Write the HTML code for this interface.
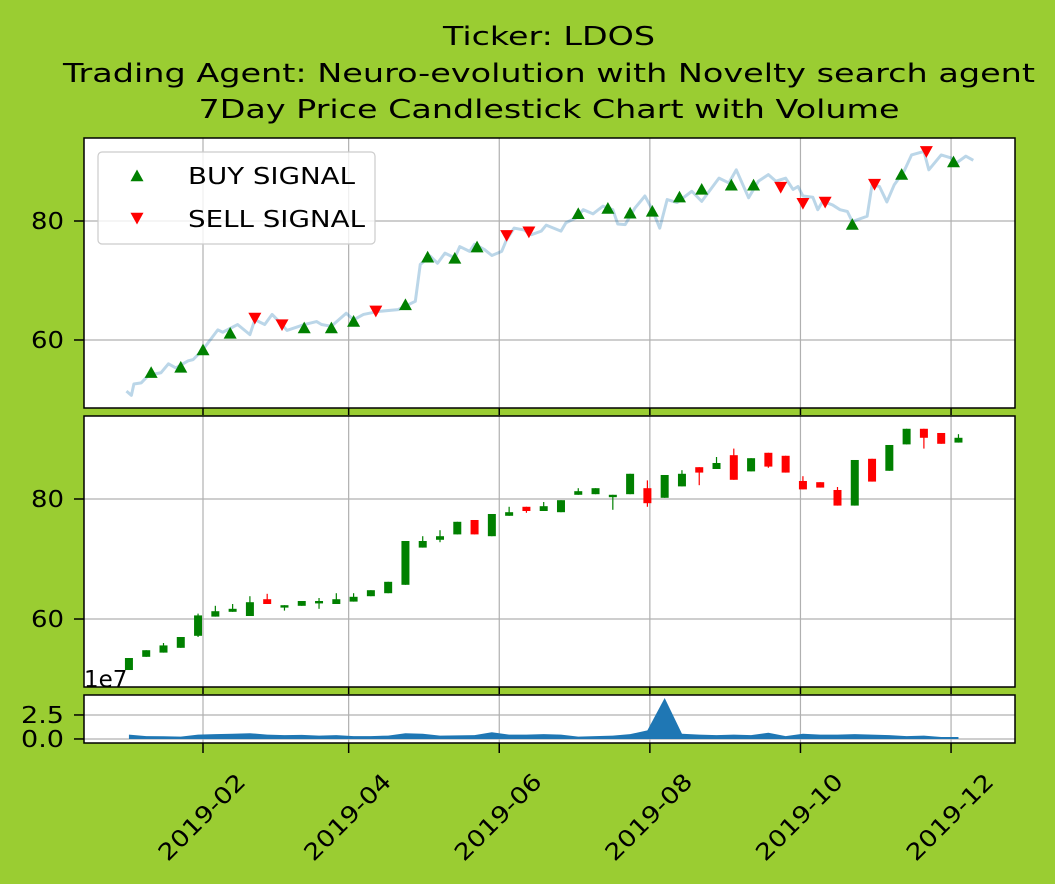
<!DOCTYPE html>
<html><head><meta charset="utf-8">
<style>
html,body{margin:0;padding:0;background:#9acd32;}
svg{display:block;font-family:"DejaVu Sans","Liberation Sans",sans-serif;}
</style></head>
<body>
<svg id="chart" width="1055" height="884" viewBox="0 0 1055 884" xmlns="http://www.w3.org/2000/svg">
<rect x="0" y="0" width="1055" height="884" fill="#9acd32"/>
<text x="549" y="45" font-size="26" text-anchor="middle" textLength="212" lengthAdjust="spacingAndGlyphs">Ticker: LDOS</text>
<text x="549" y="82" font-size="26" text-anchor="middle" textLength="972" lengthAdjust="spacingAndGlyphs">Trading Agent: Neuro-evolution with Novelty search agent</text>
<text x="549" y="118" font-size="26" text-anchor="middle" textLength="701" lengthAdjust="spacingAndGlyphs">7Day Price Candlestick Chart with Volume</text>
<g id="g1"></g>
<g id="g2"></g>
<g id="g3"></g>
<g id="gx"></g>
</svg>
<script>
// ---- data (day-of-year 2019) ----
const lineDays=[0,2,3,6,9,14,17,20,25,27,31,37,39,45,50,52,56,59,63,65,72,77,79,83,89,92,96,102,110,117,119,123,126,129,133,135,139,141,145,148,152,154,157,161,164,168,170,176,178,182,185,189,193,197,199,202,206,210,213,216,219,223,229,233,240,244,247,252,256,260,263,267,270,272,274,278,280,282,286,289,292,294,300,302,305,308,311,315,318,323,325,330,334,336,340,343];
const lineVals=[51.4,50.7,52.6,52.8,54.1,54.5,56.0,55.3,56.5,56.7,58.4,61.7,61.3,62.6,60.9,63.4,62.6,64.3,62.6,61.6,62.6,63.1,62.6,62.3,64.5,63.4,64.3,64.8,65.1,66.5,72.7,74.1,72.9,74.6,73.8,75.7,74.9,76.1,75.2,74.2,74.9,76.9,78.8,78.5,77.7,78.3,79.3,78.3,79.7,80.5,81.9,81.2,82.5,81.9,79.5,79.4,82.2,84.2,81.9,78.8,83.6,83.1,85.0,83.3,87.2,86.4,88.6,83.9,86.7,87.8,86.7,87.2,85.3,85.8,84.2,84.0,81.9,83.3,82.7,81.9,81.6,79.9,80.8,86.1,85.8,83.2,86.1,88.4,91.1,91.7,88.6,91.1,90.6,89.7,90.9,90.2];
const buyDays=[10,22,31,42,72,83,92,113,122,133,142,183,195,204,213,224,233,245,254,294,314,335];
const buyVals=[54.5,55.4,58.3,61.1,62.0,62.0,63.1,65.9,73.9,73.7,75.6,81.2,82.1,81.3,81.6,84.0,85.3,86.0,86.0,79.4,87.8,89.9];
const sellDays=[52,63,101,154,163,265,274,283,303,324];
const sellVals=[63.7,62.6,64.9,77.6,78.2,85.7,83.0,83.2,86.2,91.7];
const candleOpen=[51.5,53.7,54.4,55.2,57.2,60.4,61.2,60.5,63.3,61.9,62.2,62.6,62.5,62.9,63.8,64.3,65.7,71.9,73.2,74.1,76.5,73.8,77.2,78.7,78.0,77.8,80.7,80.8,80.3,80.8,81.8,80.2,82.1,85.3,85.0,87.3,84.6,87.7,87.2,83.0,82.8,81.5,78.9,86.7,84.7,89.1,91.7,91.0,89.4];
const candleClose=[53.5,54.8,55.6,57.0,60.6,61.3,61.7,62.8,62.5,62.3,63.0,63.0,63.3,63.7,64.8,66.2,73.0,73.0,73.8,76.2,74.1,77.5,77.8,78.0,78.8,79.8,81.3,81.8,80.7,84.2,79.3,84.0,84.2,84.4,86.0,83.2,86.8,85.4,84.4,81.6,81.9,78.9,86.5,82.9,89.0,91.7,90.2,89.2,90.2];
const candleHigh=[53.5,54.8,56.0,57.0,60.9,62.2,62.5,63.8,64.2,62.3,63.0,63.5,64.3,64.3,64.8,66.2,73.0,73.8,74.8,76.2,76.5,77.5,78.7,78.7,79.5,79.8,81.8,81.8,80.7,84.2,83.1,84.0,84.8,85.3,87.0,88.4,86.8,87.7,87.2,83.8,82.8,82.0,86.5,86.7,89.0,91.7,91.7,91.0,90.8];
const candleLow=[51.5,53.7,54.4,55.2,57.0,60.4,61.2,60.5,62.5,61.4,62.2,61.7,62.5,62.9,63.8,64.3,65.7,71.9,72.8,74.1,74.1,73.8,77.2,77.7,78.0,77.8,80.7,80.8,78.2,80.8,78.7,80.2,82.1,82.3,85.0,83.2,84.6,85.2,84.4,81.6,81.9,78.9,78.9,82.9,84.7,89.1,88.4,89.2,89.4];
const volumeVals=[0.45,0.3,0.28,0.25,0.45,0.5,0.55,0.6,0.45,0.4,0.42,0.35,0.4,0.3,0.3,0.35,0.6,0.55,0.35,0.38,0.4,0.7,0.45,0.45,0.5,0.45,0.25,0.3,0.35,0.5,0.9,4.27,0.55,0.45,0.4,0.45,0.4,0.65,0.3,0.55,0.45,0.45,0.5,0.45,0.4,0.3,0.35,0.2,0.2];
const xTickDays=[31,90,151,212,273,334];
const xTickLabels=["2019-02","2019-04","2019-06","2019-08","2019-10","2019-12"];
const priceTicks=[60,80];
const volTicks=[0,2.5];
const volTickLabels=["0.0","2.5"];

// ---- axes ----
const L=84,R=1015;
const D0=-17.2,D1=359.9;
const xs=d=>L+(d-D0)/(D1-D0)*(R-L);
function yLin(top,bot,vTop,vBot){return v=>top+(vTop-v)/(vTop-vBot)*(bot-top);}
const P1={top:138,bot:408,y:yLin(138,408,93.95,48.57)};
const P2={top:416,bot:687,y:yLin(416,687,93.83,48.67)};
const P3={top:695,bot:743,y:yLin(695,743,4.58,-0.42)};
const NS="http://www.w3.org/2000/svg";
function mk(tag,attrs,parent){const e=document.createElementNS(NS,tag);for(const k in attrs)e.setAttribute(k,attrs[k]);parent.appendChild(e);return e;}

function panelFrame(g,P,ticks,labels,name){
  const bg=mk('rect',{x:L,y:P.top,width:R-L,height:P.bot-P.top,fill:'#fff'},g);
  
  
  xTickDays.forEach(d=>{
    const gl=mk('line',{x1:xs(d),x2:xs(d),y1:P.top,y2:P.bot,stroke:'#b0b0b0','stroke-width':1.2},g);
    
    
  });
  ticks.forEach((t,i)=>{
    const y=P.y(t);
    const gl=mk('line',{x1:L,x2:R,y1:y,y2:y,stroke:'#b0b0b0','stroke-width':1.2},g);
    
    
    const tk=mk('line',{x1:L-10,x2:L,y1:y,y2:y,stroke:'#000','stroke-width':1.5},g);
    
    
    const lab=labels[i];
    const tx=mk('text',{x:L-20,y:y+8,'font-size':23,'text-anchor':'end',textLength:lab.length<3?33:43,lengthAdjust:'spacingAndGlyphs'},g);
    tx.textContent=lab;
    
    
  });
}
function panelBorder(g,P,name){
  const b=mk('rect',{x:L,y:P.top,width:R-L,height:P.bot-P.top,fill:'none',stroke:'#000','stroke-width':1.5},g);
  
  
}

// panel 1
const g1=document.getElementById('g1');
panelFrame(g1,P1,priceTicks,priceTicks.map(String),'price-panel');
const line=mk('polyline',{points:lineDays.map((d,i)=>xs(d)+','+P1.y(lineVals[i])).join(' '),fill:'none',stroke:'#1f77b4','stroke-opacity':0.3,'stroke-width':3,'stroke-linejoin':'round'},g1);


function tri(g,x,y,up,color){
  const s=6.5;
  const pts=up?[[x,y-s],[x-s,y+s*0.8],[x+s,y+s*0.8]]:[[x,y+s],[x-s,y-s*0.8],[x+s,y-s*0.8]];
  return mk('polygon',{points:pts.map(p=>p.join(',')).join(' '),fill:color},g);
}
buyDays.forEach((d,i)=>{
  const t=tri(g1,xs(d),P1.y(buyVals[i]),true,'#008000');
  
  
});
sellDays.forEach((d,i)=>{
  const t=tri(g1,xs(d),P1.y(sellVals[i]),false,'#ff0000');
  
  
});
// legend
const lg=mk('g',{},g1);


const lbox=mk('rect',{x:98,y:152,width:277,height:92,rx:4,fill:'#fff','fill-opacity':0.8,stroke:'#ccc','stroke-width':1.2},lg);


const lb=tri(lg,137,176,true,'#008000');


const ls=tri(lg,137,218,false,'#ff0000');


const lt1=mk('text',{x:188,y:184,'font-size':23,textLength:167,lengthAdjust:'spacingAndGlyphs'},lg);lt1.textContent='BUY SIGNAL';


const lt2=mk('text',{x:188,y:227,'font-size':23,textLength:177,lengthAdjust:'spacingAndGlyphs'},lg);lt2.textContent='SELL SIGNAL';


panelBorder(g1,P1,'price-panel');

// panel 2
const g2=document.getElementById('g2');
panelFrame(g2,P2,priceTicks,priceTicks.map(String),'candlestick-panel');
candleOpen.forEach((o,i)=>{
  const d=1+7*i, x=xs(d), c=candleClose[i];
  const col=c>=o?'#008000':'#ff0000';
  const w=mk('line',{x1:x,x2:x,y1:P2.y(candleHigh[i]),y2:P2.y(candleLow[i]),stroke:col,'stroke-width':1.2},g2);
  
  
  const yt=P2.y(Math.max(o,c)), yb=P2.y(Math.min(o,c));
  const b=mk('rect',{x:x-4,y:yt,width:8,height:Math.max(1.5,yb-yt),fill:col},g2);
  
  
});
panelBorder(g2,P2,'candlestick-panel');
const sci=mk('text',{x:84,y:687,'font-size':23},g2);sci.textContent='1e7';



// panel 3
const g3=document.getElementById('g3');
panelFrame(g3,P3,volTicks,volTickLabels,'volume-panel');
const vpts=volumeVals.map((v,i)=>xs(1+7*i)+','+P3.y(v));
const area=mk('polygon',{points:[xs(1)+','+P3.y(0),...vpts,xs(1+7*(volumeVals.length-1))+','+P3.y(0)].join(' '),fill:'#1f77b4'},g3);


panelBorder(g3,P3,'volume-panel');

// x axis
const gx=document.getElementById('gx');
xTickDays.forEach((d,i)=>{
  const x=xs(d);
  [P1.bot,P2.bot].forEach(yb=>{
    const tk=mk('line',{x1:x,x2:x,y1:yb,y2:yb+7,stroke:'#000','stroke-width':1.5},gx);
    
    
  });
  const tk=mk('line',{x1:x,x2:x,y1:P3.bot,y2:P3.bot+10,stroke:'#000','stroke-width':1.5},gx);
  
  
  const ax=x+44, ay=P3.bot+40;
  const t=mk('text',{x:ax,y:ay,'font-size':23,'text-anchor':'end',textLength:112,lengthAdjust:'spacingAndGlyphs',transform:`rotate(-45 ${ax} ${ay})`},gx);
  t.textContent=xTickLabels[i];
  
  
});
</script>
</body></html>
